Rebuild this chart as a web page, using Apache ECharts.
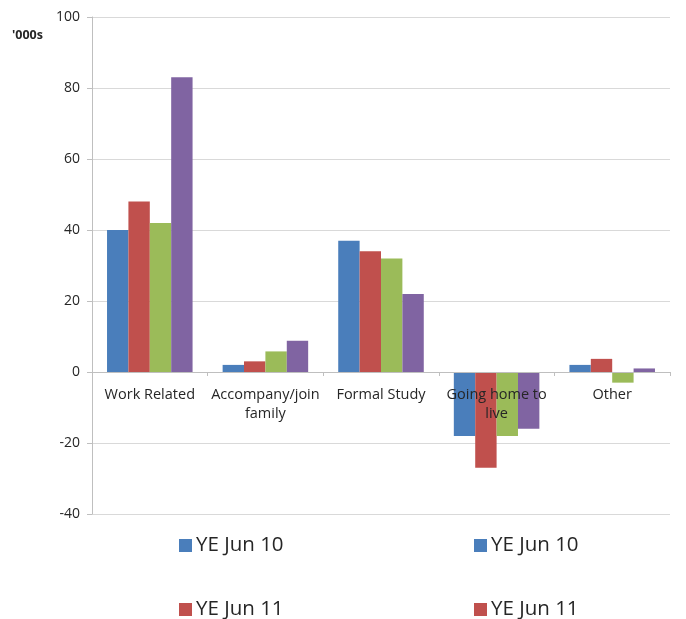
<!DOCTYPE html>
<html>
<head>
<meta charset="utf-8">
<script src="https://cdn.jsdelivr.net/npm/echarts@6/dist/echarts.min.js"></script>
<style>html,body{margin:0;padding:0;background:#fff;}#c{width:686px;height:619px;}</style>
</head>
<body>
<div id="c"></div>
<script>
const categories = ['Work Related', 'Accompany/join\nfamily', 'Formal Study', 'Going home to\nlive', 'Other'];
const seriesNames = ['YE Jun 10', 'YE Jun 11', 'Series 3', 'Series 4'];
const s1 = [40, 2, 37, -18, 2];
const s2 = [48, 3, 34, -27, 3.7];
const s3 = [42, 5.8, 32, -18, -3];
const s4 = [83, 8.8, 22, -16, 1];
const yTicks = { min: -40, max: 100, interval: 20 };
const colors = ['#4a7ebb', '#c0504d', '#9bbb59', '#8064a2'];

const font = '"Open Sans", "Liberation Sans", sans-serif';
const chart = echarts.init(document.getElementById('c'), null, { renderer: 'canvas' });
const seriesData = [s1, s2, s3, s4];
const mkLegend = (name, left, top) => ({
  data: [name], left: left, top: top, padding: 0, itemWidth: 13, itemHeight: 13, itemGap: 4,
  icon: 'rect', selectedMode: false,
  textStyle: { fontFamily: font, fontSize: 20.5, color: '#262626', padding: [0, 0, 0, -1] }
});
const gridTop = 17, gridBottom = 105, chartH = 619;
const plotH = chartH - gridTop - gridBottom;
const zeroOffset = -plotH * (0 - yTicks.min) / (yTicks.max - yTicks.min);
chart.setOption({
  animation: false,
  color: colors,
  grid: { left: 92, right: 16, top: gridTop, bottom: gridBottom },
  graphic: [{ type: 'text', left: 12, top: 29, style: { text: "'000s", fontFamily: font, fontSize: 12.5, fontWeight: 'bold', fill: '#262626' } }],
  legend: [
    mkLegend(seriesNames[0], 179, 535),
    mkLegend(seriesNames[1], 179, 599),
    mkLegend(seriesNames[0], 474, 535),
    mkLegend(seriesNames[1], 474, 599)
  ],
  xAxis: {
    type: 'category', data: categories, offset: zeroOffset, z: 10,
    axisLine: { onZero: false, lineStyle: { color: '#bfbfbf', width: 1 } },
    axisTick: { show: true, length: 4, lineStyle: { color: '#bfbfbf' } },
    axisLabel: { fontFamily: font, fontSize: 14.5, color: '#262626', margin: 13, lineHeight: 19, interval: 0 }
  },
  yAxis: {
    type: 'value', min: yTicks.min, max: yTicks.max, interval: yTicks.interval,
    axisLine: { show: true, lineStyle: { color: '#bfbfbf' } },
    axisTick: { show: true, length: 5, lineStyle: { color: '#bfbfbf' } },
    axisLabel: { fontFamily: font, fontSize: 14, color: '#262626', margin: 12 },
    splitLine: { lineStyle: { color: '#d9d9d9' } }
  },
  series: seriesData.map((d, i) => ({
    type: 'bar', name: seriesNames[i], data: d,
    barGap: '0%', barCategoryGap: '26%',
    itemStyle: { color: colors[i] }
  }))
});
</script>
</body>
</html>
